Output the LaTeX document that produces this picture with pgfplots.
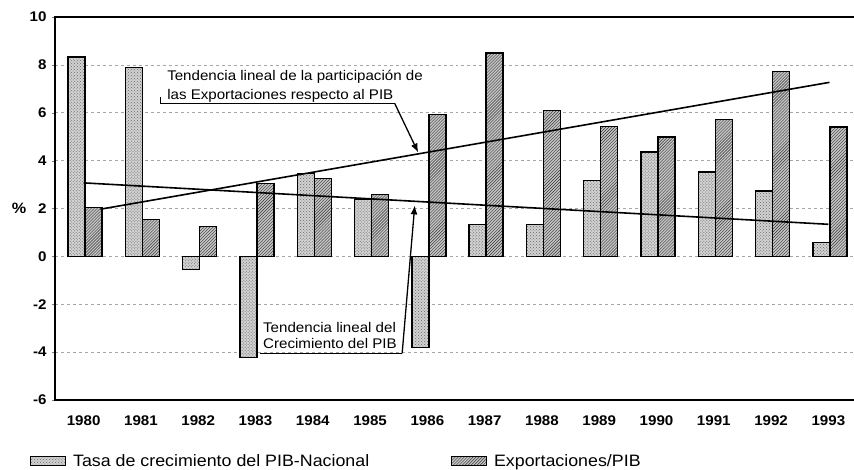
\documentclass[border=0pt]{standalone}
\usepackage{fontspec}
\setmainfont{Liberation Sans}[FakeStretch=1.08]
\usepackage{pgfplots}
\pgfplotsset{compat=1.18}
\usetikzlibrary{patterns,arrows.meta}
\pgfplotsset{boxlegend/.style={legend image code/.code={\draw[##1, line width=0.8bp] (0bp,-4.5bp) rectangle (35bp,4.5bp);}}}
\begin{document}
\begin{tikzpicture}
\useasboundingbox (-55bp,-70bp) rectangle (799bp,400bp);
\begin{axis}[
  at={(0,0)}, anchor=south west,
  scale only axis, width=802bp, height=383bp,
  xmin=-0.5, xmax=13.5, ymin=-6, ymax=10,
  clip=false,
  xtick={0,1,2,3,4,5,6,7,8,9,10,11,12,13},
  xticklabels={1980,1981,1982,1983,1984,1985,1986,1987,1988,1989,1990,1991,1992,1993},
  ytick={-6,-4,-2,0,2,4,6,8,10},
  xtick style={draw=none},
  ytick pos=left, tick align=outside, major tick length=3bp,
  ymajorgrids, grid style={dashed, gray!70, line width=0.5bp},
  axis line style={line width=1.4bp},
  every tick label/.append style={font=\fontsize{14bp}{16bp}\selectfont\bfseries},
  /pgf/number format/assume math mode=true,
  xticklabel style={yshift=-9bp},
  yticklabel style={xshift=-2bp},
  legend columns=2,
  legend style={draw=none, fill=none, at={(rel axis cs:-0.031,-0.159)}, anchor=west,
    font=\fontsize{16.5bp}{19bp}\selectfont,
    /tikz/every odd column/.append style={column sep=5bp},
    /tikz/every even column/.append style={column sep=80bp},
    inner sep=0pt},
]
\addplot[ybar, bar width=17bp, bar shift=-7bp, draw=black, line width=1.3bp,
  fill=gray!35, postaction={pattern=crosshatch dots, pattern color=gray!80!black}, boxlegend]
coordinates {(0,8.33) (1,7.9) (2,-0.56) (3,-4.21) (4,3.47) (5,2.38) (6,-3.8) (7,1.34) (8,1.34) (9,3.18) (10,4.36) (11,3.53) (12,2.73) (13,0.57)};
\addlegendentry{Tasa de crecimiento del PIB-Nacional}
\addplot[ybar, bar width=17bp, bar shift=10bp, draw=black, line width=1.3bp,
  fill=gray!45, postaction={pattern=north east lines, pattern color=black!80}, boxlegend]
coordinates {(0,2.05) (1,1.53) (2,1.26) (3,3.04) (4,3.26) (5,2.59) (6,5.94) (7,8.5) (8,6.08) (9,5.44) (10,4.99) (11,5.72) (12,7.71) (13,5.41)};
\addlegendentry{Exportaciones/PIB}
\addplot[black, line width=1.6bp, forget plot] coordinates {(0,3.07) (13,1.34)};
\addplot[black, line width=1.6bp, forget plot] coordinates {(0.29,1.97) (13.02,7.27)};
% annotation 1
\node[anchor=west, align=left, font=\fontsize{14bp}{19bp}\selectfont, inner sep=0pt]
  at (axis cs:1.456,7.12) {Tendencia lineal de la participación de\\las Exportaciones respecto al PIB};
\draw[line width=1bp] (axis cs:1.333,6.64) -- (axis cs:1.333,6.39) -- (axis cs:5.43,6.39);
\draw[line width=1.3bp, -{Latex[length=9bp,width=7bp]}] (axis cs:5.43,6.39) -- (axis cs:5.84,4.34);
% annotation 2
\node[anchor=west, align=left, font=\fontsize{14bp}{16bp}\selectfont, inner sep=0pt]
  at (axis cs:3.13,-3.30) {Tendencia lineal del\\Crecimiento del PIB};
\draw[line width=1bp] (axis cs:3.08,-4.05) -- (axis cs:5.56,-4.05);
\draw[line width=1.3bp, -{Latex[length=9bp,width=7bp]}] (axis cs:5.56,-4.05) -- (axis cs:5.78,2.13);
\node[font=\fontsize{15bp}{18bp}\selectfont\bfseries] at (axis cs:-1.127,2) {\%};
\end{axis}
\end{tikzpicture}
\end{document}
